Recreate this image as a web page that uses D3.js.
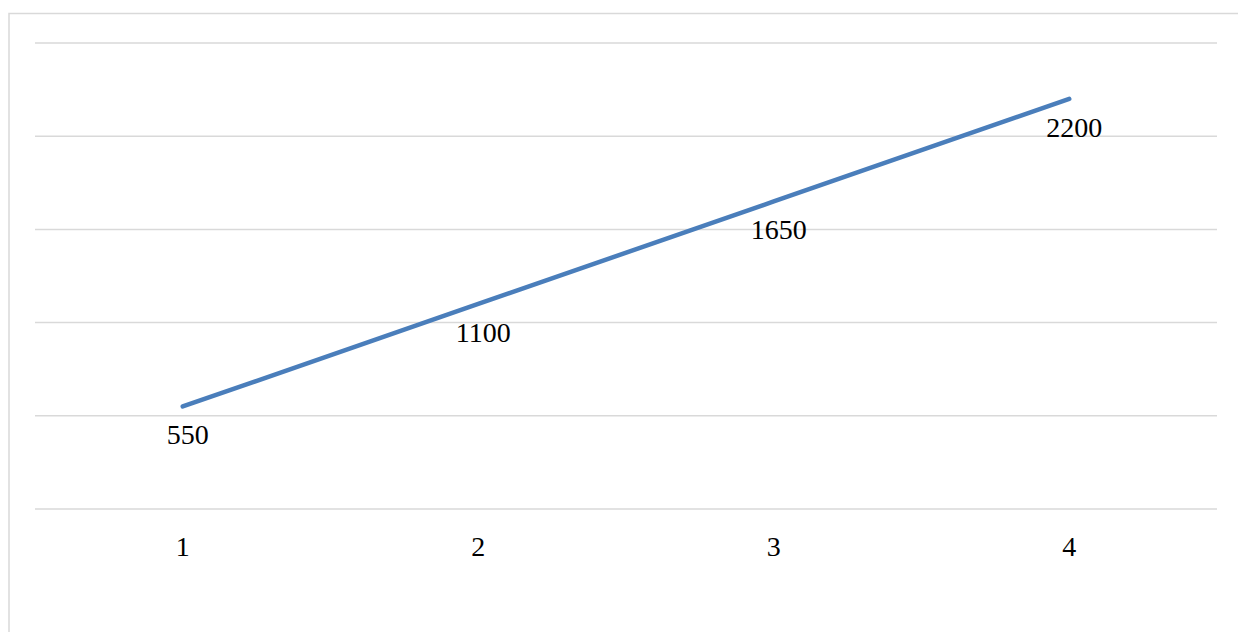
<!DOCTYPE html>
<html lang="en">
  <head>
    <meta charset="utf-8">
    <title>line chart</title>
    <script src="https://d3js.org/d3.v7.min.js"></script>
    <style>
      body { margin: 0; background: #fff; }
    </style>
  </head>
  <body>
  <script>

  // data
  var categories = ["1", "2", "3", "4"];
  var values = [550, 1100, 1650, 2200];
  var yTicks = [0, 500, 1000, 1500, 2000, 2500];

  var w = 1238;
  var h = 632;
  var margin = {top: 43, right: 21, bottom: 123, left: 35};
  var innerWidth = w - margin.left - margin.right;
  var innerHeight = h - margin.top - margin.bottom;

  var svg = d3.select("body")
    .append("svg")
      .attr("width", w)
      .attr("height", h);

  // chart border (runs off the right and bottom edges)
  svg.append("rect")
      .attr("x", 9)
      .attr("y", 13.5)
      .attr("width", w + 20)
      .attr("height", h + 20)
      .attr("fill", "white")
      .attr("stroke", "#d9d9d9")
      .attr("stroke-width", 1.5);

  var xScale = d3.scaleBand()
      .domain(categories)
      .range([0, innerWidth]);

  var yScale = d3.scaleLinear()
      .domain([0, 2500])
      .range([innerHeight, 0]);

  var g = svg.append("g")
      .attr("transform", `translate(${margin.left}, ${margin.top})`);

  // gridlines
  g.append("g")
      .attr("class", "grid")
    .selectAll("line")
    .data(yTicks)
    .enter().append("line")
      .attr("x1", 0)
      .attr("x2", innerWidth)
      .attr("y1", d => yScale(d))
      .attr("y2", d => yScale(d))
      .attr("stroke", "#d9d9d9")
      .attr("stroke-width", 1.5);

  // x axis labels
  var xAxis = d3.axisBottom(xScale).tickSize(0).tickPadding(27);
  var xg = g.append("g")
      .attr("transform", `translate(0, ${innerHeight})`)
      .call(xAxis);
  xg.select(".domain").remove();
  xg.selectAll("text")
      .attr("font-family", "Liberation Serif, Times New Roman, serif")
      .attr("font-size", 28)
      .attr("fill", "#000");

  var pts = values.map((v, i) => ({c: categories[i], v: v}));

  var line = d3.line()
      .x(d => xScale(d.c) + xScale.bandwidth() / 2)
      .y(d => yScale(d.v));

  g.append("path")
      .datum(pts)
      .attr("d", line)
      .attr("fill", "none")
      .attr("stroke", "#4a7ebb")
      .attr("stroke-width", 4.5)
      .attr("stroke-linecap", "round");

  // data labels below points
  g.append("g")
    .selectAll("text")
    .data(pts)
    .enter().append("text")
      .attr("x", d => xScale(d.c) + xScale.bandwidth() / 2 + 5)
      .attr("y", d => yScale(d.v) + 38)
      .attr("text-anchor", "middle")
      .attr("font-family", "Liberation Serif, Times New Roman, serif")
      .attr("font-size", 28)
      .attr("fill", "#000")
      .text(d => d.v);

  </script>
  </body>
</html>
